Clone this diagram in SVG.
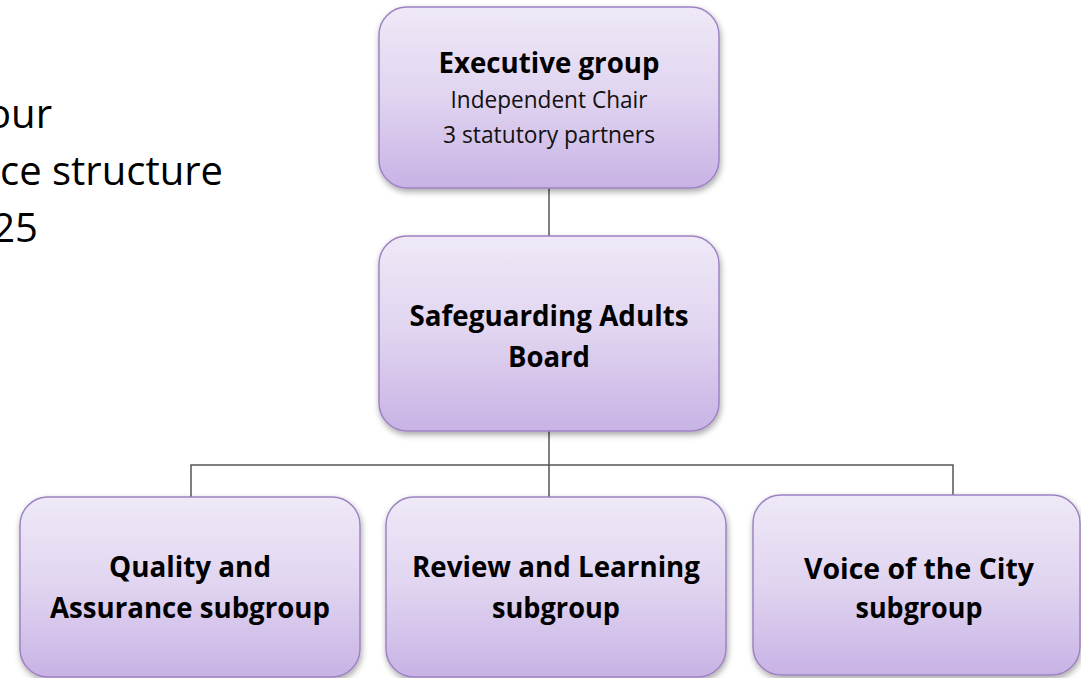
<svg xmlns="http://www.w3.org/2000/svg" width="1081" height="678" viewBox="0 0 1081 678">
<defs>
<linearGradient id="boxGrad" x1="0" y1="0" x2="0" y2="1">
<stop offset="0" stop-color="#efe9f7"/>
<stop offset="0.5" stop-color="#e0d4f0"/>
<stop offset="1" stop-color="#c8b3e5"/>
</linearGradient>
<filter id="shadow" x="-10%" y="-10%" width="125%" height="130%">
<feDropShadow dx="1" dy="3" stdDeviation="3" flood-color="#000" flood-opacity="0.35"/>
</filter>
</defs>
<style>
.box{fill:url(#boxGrad);stroke:#9d83c2;stroke-width:1.5;filter:url(#shadow)}
.conn{fill:none;stroke:#555;stroke-width:1.5}
.b{font-family:"Open Sans","Liberation Sans",sans-serif;font-weight:bold;font-size:29px;fill:#000;text-anchor:middle}
.r{font-family:"Open Sans","Liberation Sans",sans-serif;font-size:24px;fill:#111;text-anchor:middle}
.side{font-family:"Open Sans","Liberation Sans",sans-serif;font-size:40px;fill:#000;text-anchor:end}
</style>
<rect width="1081" height="678" fill="#fff"/>
<g id="side-text">
<text class="side" x="52" y="128">our</text>
<text class="side" x="223" y="185">ce structure</text>
<text class="side" x="38" y="242">25</text>
</g>
<g id="connectors">
<line class="conn" x1="549" y1="188" x2="549" y2="236"/>
<line class="conn" x1="549" y1="431" x2="549" y2="497"/>
<polyline class="conn" points="191,497 191,465 953,465 953,495"/>
</g>
<g id="executive">
<rect class="box" x="379" y="7" width="340" height="181" rx="28"/>
<text class="b" x="549" y="73" textLength="221" lengthAdjust="spacingAndGlyphs">Executive group</text>
<text class="r" x="549" y="108" textLength="197" lengthAdjust="spacingAndGlyphs">Independent Chair</text>
<text class="r" x="549" y="143" textLength="212" lengthAdjust="spacingAndGlyphs">3 statutory partners</text>
</g>
<g id="board">
<rect class="box" x="379" y="236" width="340" height="195" rx="28"/>
<text class="b" x="549" y="326" textLength="279" lengthAdjust="spacingAndGlyphs">Safeguarding Adults</text>
<text class="b" x="549" y="367" textLength="82" lengthAdjust="spacingAndGlyphs">Board</text>
</g>
<g id="quality">
<rect class="box" x="20" y="497" width="340" height="180" rx="28"/>
<text class="b" x="190" y="577" textLength="162" lengthAdjust="spacingAndGlyphs">Quality and</text>
<text class="b" x="190" y="618" textLength="280" lengthAdjust="spacingAndGlyphs">Assurance subgroup</text>
</g>
<g id="review">
<rect class="box" x="386" y="497" width="340" height="180" rx="28"/>
<text class="b" x="556" y="577" textLength="288" lengthAdjust="spacingAndGlyphs">Review and Learning</text>
<text class="b" x="556" y="618" textLength="128" lengthAdjust="spacingAndGlyphs">subgroup</text>
</g>
<g id="voice">
<rect class="box" x="753" y="495" width="327" height="180" rx="28"/>
<text class="b" x="919" y="579" textLength="230" lengthAdjust="spacingAndGlyphs">Voice of the City</text>
<text class="b" x="919" y="618" textLength="127" lengthAdjust="spacingAndGlyphs">subgroup</text>
</g>
</svg>
